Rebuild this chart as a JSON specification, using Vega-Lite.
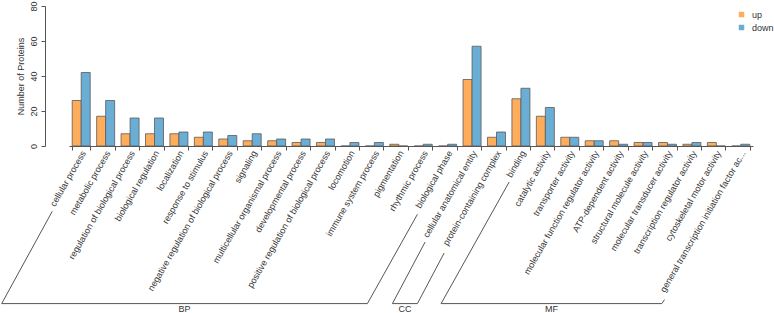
{
  "$schema": "https://vega.github.io/schema/vega-lite/v6.json",
  "width": 684,
  "height": 140,
  "autosize": {"type": "none"},
  "padding": {"left": 69, "top": 6, "right": 21, "bottom": 167},
  "background": "white",
  "config": {
    "view": {"stroke": null},
    "font": "Liberation Sans",
    "axis": {"grid": false, "domainColor": "#555", "tickColor": "#555", "labelColor": "#333", "titleColor": "#333", "labelFontSize": 9, "titleFontSize": 9, "titleFontWeight": "normal"},
    "legend": {"labelColor": "#333"}
  },
  "datasets": {
    "counts": [
      {"term": "cellular process", "dir": "up", "n": 26}, {"term": "cellular process", "dir": "down", "n": 42},
      {"term": "metabolic process", "dir": "up", "n": 17}, {"term": "metabolic process", "dir": "down", "n": 26},
      {"term": "regulation of biological process", "dir": "up", "n": 7}, {"term": "regulation of biological process", "dir": "down", "n": 16},
      {"term": "biological regulation", "dir": "up", "n": 7}, {"term": "biological regulation", "dir": "down", "n": 16},
      {"term": "localization", "dir": "up", "n": 7}, {"term": "localization", "dir": "down", "n": 8},
      {"term": "response to stimulus", "dir": "up", "n": 5}, {"term": "response to stimulus", "dir": "down", "n": 8},
      {"term": "negative regulation of biological process", "dir": "up", "n": 4}, {"term": "negative regulation of biological process", "dir": "down", "n": 6},
      {"term": "signaling", "dir": "up", "n": 3}, {"term": "signaling", "dir": "down", "n": 7},
      {"term": "multicellular organismal process", "dir": "up", "n": 3}, {"term": "multicellular organismal process", "dir": "down", "n": 4},
      {"term": "developmental process", "dir": "up", "n": 2}, {"term": "developmental process", "dir": "down", "n": 4},
      {"term": "positive regulation of biological process", "dir": "up", "n": 2}, {"term": "positive regulation of biological process", "dir": "down", "n": 4},
      {"term": "locomotion", "dir": "up", "n": 0}, {"term": "locomotion", "dir": "down", "n": 2},
      {"term": "immune system process", "dir": "up", "n": 0}, {"term": "immune system process", "dir": "down", "n": 2},
      {"term": "pigmentation", "dir": "up", "n": 1}, {"term": "pigmentation", "dir": "down", "n": 0},
      {"term": "rhythmic process", "dir": "up", "n": 0}, {"term": "rhythmic process", "dir": "down", "n": 1},
      {"term": "biological phase", "dir": "up", "n": 0}, {"term": "biological phase", "dir": "down", "n": 1},
      {"term": "cellular anatomical entity", "dir": "up", "n": 38}, {"term": "cellular anatomical entity", "dir": "down", "n": 57},
      {"term": "protein-containing complex", "dir": "up", "n": 5}, {"term": "protein-containing complex", "dir": "down", "n": 8},
      {"term": "binding", "dir": "up", "n": 27}, {"term": "binding", "dir": "down", "n": 33},
      {"term": "catalytic activity", "dir": "up", "n": 17}, {"term": "catalytic activity", "dir": "down", "n": 22},
      {"term": "transporter activity", "dir": "up", "n": 5}, {"term": "transporter activity", "dir": "down", "n": 5},
      {"term": "molecular function regulator activity", "dir": "up", "n": 3}, {"term": "molecular function regulator activity", "dir": "down", "n": 3},
      {"term": "ATP-dependent activity", "dir": "up", "n": 3}, {"term": "ATP-dependent activity", "dir": "down", "n": 1},
      {"term": "structural molecule activity", "dir": "up", "n": 2}, {"term": "structural molecule activity", "dir": "down", "n": 2},
      {"term": "molecular transducer activity", "dir": "up", "n": 2}, {"term": "molecular transducer activity", "dir": "down", "n": 1},
      {"term": "transcription regulator activity", "dir": "up", "n": 1}, {"term": "transcription regulator activity", "dir": "down", "n": 2},
      {"term": "cytoskeletal motor activity", "dir": "up", "n": 2}, {"term": "cytoskeletal motor activity", "dir": "down", "n": 0},
      {"term": "general transcription initiation factor ac...", "dir": "up", "n": 0}, {"term": "general transcription initiation factor ac...", "dir": "down", "n": 1}
    ],
    "brackets": [
      {"grp": "BP", "k": 1, "u": -0.684, "v": -37.3},
      {"grp": "BP", "k": 2, "u": -2.756, "v": -90.06},
      {"grp": "BP", "k": 3, "u": 12.215, "v": -90.06},
      {"grp": "BP", "k": 4, "u": 14.263, "v": -39.0},
      {"grp": "CC", "k": 1, "u": 14.578, "v": -54.86},
      {"grp": "CC", "k": 2, "u": 13.239, "v": -90.06},
      {"grp": "CC", "k": 3, "u": 14.263, "v": -90.06},
      {"grp": "CC", "k": 4, "u": 15.356, "v": -61.14},
      {"grp": "MF", "k": 1, "u": 18.018, "v": -20.57},
      {"grp": "MF", "k": 2, "u": 15.233, "v": -90.06},
      {"grp": "MF", "k": 3, "u": 24.27, "v": -90.06},
      {"grp": "MF", "k": 4, "u": 24.377, "v": -87.77}
    ],
    "groups": [
      {"grp": "BP", "u": 4.73, "v": -92.9},
      {"grp": "CC", "u": 13.75, "v": -92.9},
      {"grp": "MF", "u": 19.75, "v": -92.9}
    ]
  },
  "layer": [
    {
      "data": {"name": "counts"},
      "mark": {"type": "bar", "stroke": "#5a5a5a", "strokeWidth": 0.8},
      "encoding": {
        "x": {
          "field": "term", "type": "nominal", "sort": null,
          "scale": {"paddingInner": 0.263, "paddingOuter": 0.1315},
          "axis": {"title": null, "labelAngle": -60, "labelAlign": "right", "labelBaseline": "middle", "labelLimit": 300, "tickBand": "extent", "tickSize": 4, "labelPadding": 1, "labelOffset": 2}
        },
        "xOffset": {"field": "dir", "type": "nominal", "sort": ["up", "down"], "scale": {"paddingInner": 0, "paddingOuter": 0}},
        "y": {
          "field": "n", "type": "quantitative",
          "scale": {"domain": [0, 80], "nice": false},
          "axis": {"title": "Number of Proteins", "values": [0, 20, 40, 60, 80], "offset": 24, "labelAngle": -90, "labelAlign": "center", "labelBaseline": "bottom", "tickSize": 4, "labelPadding": 3, "titlePadding": 4}
        },
        "color": {
          "field": "dir", "type": "nominal", "sort": ["up", "down"],
          "scale": {"domain": ["up", "down"], "range": ["#FFAD5B", "#6AAED6"]},
          "legend": {"orient": "none", "legendX": 668, "legendY": 4, "title": null, "symbolType": "square", "symbolSize": 30, "symbolStrokeWidth": 0, "labelFontSize": 9, "rowPadding": 3, "labelOffset": 6, "padding": 0}
        }
      }
    },
    {
      "data": {"name": "brackets"},
      "mark": {"type": "line", "stroke": "#555", "strokeWidth": 1},
      "encoding": {
        "x": {"field": "u", "type": "quantitative", "scale": {"domain": [0, 28], "nice": false, "zero": false}, "axis": null},
        "y": {"field": "v", "type": "quantitative", "scale": {"domain": [0, 80], "nice": false}, "axis": null},
        "detail": {"field": "grp"},
        "order": {"field": "k"}
      }
    },
    {
      "data": {"name": "groups"},
      "mark": {"type": "text", "fontSize": 9, "color": "#333", "align": "center", "baseline": "middle"},
      "encoding": {
        "x": {"field": "u", "type": "quantitative", "scale": {"domain": [0, 28], "nice": false, "zero": false}, "axis": null},
        "y": {"field": "v", "type": "quantitative", "scale": {"domain": [0, 80], "nice": false}, "axis": null},
        "text": {"field": "grp"}
      }
    }
  ],
  "resolve": {"scale": {"x": "independent", "y": "independent"}}
}
